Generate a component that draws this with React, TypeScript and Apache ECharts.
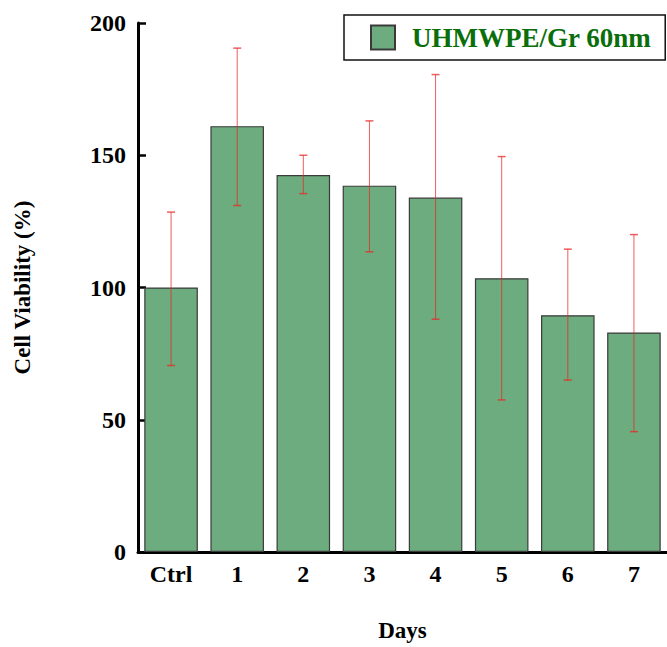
import React, { useEffect, useRef } from "react";
import * as echarts from "echarts";

const categories = ["Ctrl", "1", "2", "3", "4", "5", "6", "7"];
const viability = [100, 161, 142.5, 138.5, 134, 103.5, 89.5, 83];
const errUpper = [128.5, 190.5, 150, 163, 180.5, 149.5, 114.5, 120];
const errLower = [70.5, 131, 135.5, 113.5, 88, 57.5, 65, 45.5];
const seriesName = "UHMWPE/Gr 60nm";

const FONT = "'Liberation Serif', 'Times New Roman', serif";

export default function App() {
  const ref = useRef<HTMLDivElement>(null);
  useEffect(() => {
    if (!ref.current) return;
    const chart = echarts.init(ref.current, undefined, { renderer: "svg" });
    const errData = categories.map((_, i) => [i, errLower[i], errUpper[i]]);
    chart.setOption({
      animation: false,
      backgroundColor: "#ffffff",
      grid: { left: 138, width: 533, top: 23, bottom: 92, containLabel: false },
      legend: {
        data: [seriesName],
        left: 344,
        top: 15,
        padding: [9, 14, 9, 26],
        borderColor: "#111",
        borderWidth: 1.5,
        borderRadius: 0,
        itemWidth: 24,
        itemHeight: 24,
        icon: "rect",
        textStyle: {
          fontFamily: FONT,
          fontWeight: "bold",
          fontSize: 27,
          color: "#0a6e0a",
          padding: [0, 0, 0, 12],
        },
      },
      xAxis: {
        type: "category",
        data: categories,
        boundaryGap: true,
        name: "Days",
        nameLocation: "middle",
        nameGap: 67,
        nameTextStyle: { fontFamily: FONT, fontWeight: "bold", fontSize: 23, color: "#000" },
        axisLine: { lineStyle: { color: "#000", width: 3 } },
        axisTick: { inside: true, length: 7, alignWithLabel: false, interval: 0, lineStyle: { color: "#000", width: 3 } },
        axisLabel: { fontFamily: FONT, fontWeight: "bold", fontSize: 24, color: "#000", margin: 10, interval: 0 },
        splitLine: { show: false },
      },
      yAxis: {
        type: "value",
        min: 0,
        max: 200,
        interval: 50,
        name: "Cell Viability (%)",
        nameLocation: "middle",
        nameGap: 104,
        nameTextStyle: { fontFamily: FONT, fontWeight: "bold", fontSize: 23, color: "#000" },
        axisLine: { show: true, lineStyle: { color: "#000", width: 3 } },
        axisTick: { show: true, inside: true, length: 8, lineStyle: { color: "#000", width: 2.5 } },
        axisLabel: { fontFamily: FONT, fontWeight: "bold", fontSize: 24, color: "#000", margin: 12 },
        splitLine: { show: false },
      },
      series: [
        {
          name: seriesName,
          type: "bar",
          data: viability,
          barCategoryGap: "19%",
          itemStyle: { color: "#6dac7e", borderColor: "#3a3a3a", borderWidth: 1.2 },
        },
        {
          type: "custom",
          name: "error",
          data: errData,
          z: 10,
          renderItem: (params: any, api: any) => {
            const x = api.value(0);
            const lo = api.coord([x, api.value(1)]);
            const hi = api.coord([x, api.value(2)]);
            const cap = 4;
            const style = { stroke: "rgba(232,40,40,0.75)", lineWidth: 1 };
            return {
              type: "group",
              children: [
                { type: "line", shape: { x1: hi[0], y1: hi[1], x2: lo[0], y2: lo[1] }, style },
                { type: "line", shape: { x1: hi[0] - cap, y1: hi[1], x2: hi[0] + cap, y2: hi[1] }, style: { ...style, lineWidth: 1.5 } },
                { type: "line", shape: { x1: lo[0] - cap, y1: lo[1], x2: lo[0] + cap, y2: lo[1] }, style: { ...style, lineWidth: 1.5 } },
              ],
            };
          },
        },
      ],
    });
    return () => chart.dispose();
  }, []);
  return <div ref={ref} style={{ position: "fixed", left: 0, top: 0, width: 667, height: 647 }} />;
}
